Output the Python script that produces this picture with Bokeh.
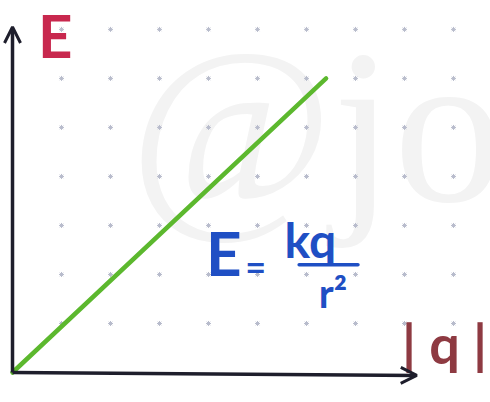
from bokeh.plotting import figure
from bokeh.models import Range1d, Arrow, OpenHead, ColumnDataSource
from bokeh.core.properties import value
from bokeh.embed import file_html
from bokeh.resources import INLINE

# E grows linearly with |q| (E = k q / r^2 at fixed r)
q_values = [0.0, 6.4]
e_values = [0.0, 6.0]

# dotted background grid (one unit per dot)
grid_cols = [1, 2, 3, 4, 5, 6, 7, 8, 9]
grid_rows = [1, 2, 3, 4, 5, 6, 7]

# axis extents
x_axis_end = 8.25
y_axis_end = 7.05

p = figure(width=490, height=402, output_backend="svg", toolbar_location=None,
           x_range=Range1d(-0.245, 9.755), y_range=Range1d(-0.612, 7.59),
           min_border=0)
p.axis.visible = False
p.grid.visible = False
p.outline_line_color = None
p.background_fill_color = "white"

# faint watermark
p.text(x=[2.4], y=[5.0], text=["@jo"], text_font=value("Liberation Serif"),
       text_font_size="220px", text_color="#f3f3f3", text_baseline="alphabetic")

# dot grid
gx = [c for r in grid_rows for c in grid_cols]
gy = [r for r in grid_rows for c in grid_cols]
p.scatter(gx, gy, marker="asterisk", size=5, line_color="#b8bccc", line_width=1)

# axes with open arrow heads
p.add_layout(Arrow(end=OpenHead(size=16, line_width=3, line_color="#1e1e2c"),
                   x_start=0, y_start=0, x_end=0, y_end=y_axis_end,
                   line_width=3.5, line_color="#1e1e2c"))
p.add_layout(Arrow(end=OpenHead(size=16, line_width=3, line_color="#1e1e2c"),
                   x_start=0, y_start=0, x_end=x_axis_end, y_end=-0.06,
                   line_width=3.5, line_color="#1e1e2c"))

# the linear relation
src = ColumnDataSource(dict(q=q_values, e=e_values))
p.line("q", "e", source=src, line_color="#5cb82e", line_width=4.5, line_cap="round")

# axis labels
p.text(x=[0.52], y=[6.88], text=["E"], text_font=value("Lato"), text_font_style="bold",
       text_font_size="60px", text_color="#c8284e", text_baseline="middle")
p.text(x=[7.95], y=[0.6], text=["| q |"], text_font=value("Lato"), text_font_style="bold",
       text_font_size="54px", text_color="#8e3a42", text_baseline="middle")

# formula E = kq / r²
blue = "#1f4fc4"
p.text(x=[3.95], y=[2.45], text=["E"], text_font=value("Lato"), text_font_style="bold",
       text_font_size="62px", text_color=blue, text_baseline="middle")
p.text(x=[4.75], y=[2.18], text=["="], text_font=value("Lato"), text_font_style="bold",
       text_font_size="36px", text_color=blue, text_baseline="middle")
p.text(x=[5.55], y=[2.72], text=["kq"], text_font=value("Lato"), text_font_style="bold",
       text_font_size="48px", text_color=blue, text_baseline="middle")
p.line([5.85, 7.05], [2.2, 2.2], line_color=blue, line_width=3.5, line_cap="round")
p.text(x=[6.25], y=[1.62], text=["r²"], text_font=value("Lato"), text_font_style="bold",
       text_font_size="40px", text_color=blue, text_baseline="middle")

open("out.html", "w").write(file_html(p, INLINE))
